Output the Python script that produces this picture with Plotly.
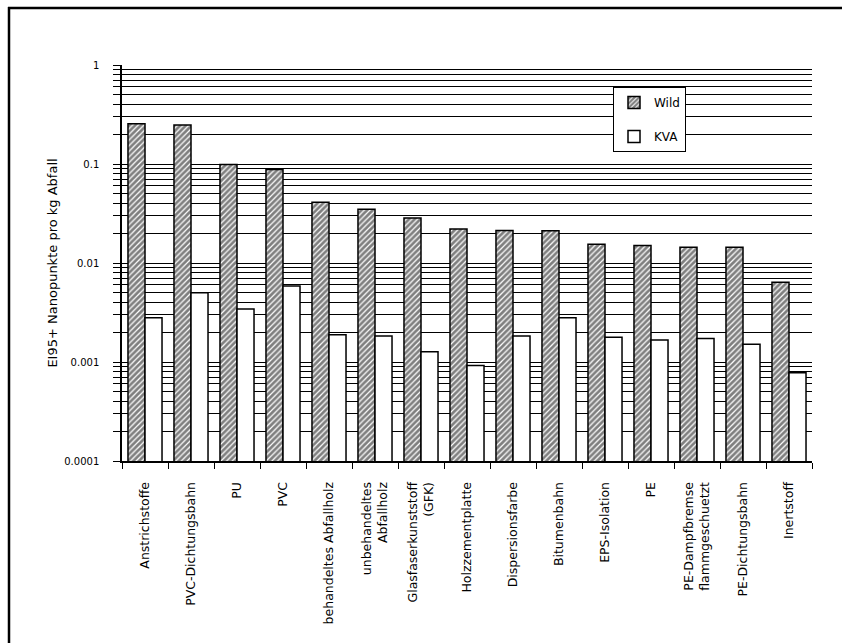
import plotly.graph_objects as go

categories = [
    "Anstrichstoffe", "PVC-Dichtungsbahn", "PU", "PVC", "behandeltes Abfallholz",
    "unbehandeltes<br>Abfallholz", "Glasfaserkunststoff<br>(GFK)", "Holzzementplatte",
    "Dispersionsfarbe", "Bitumenbahn", "EPS-Isolation", "PE",
    "PE-Dampfbremse<br>flammgeschuetzt", "PE-Dichtungsbahn", "Inertstoff",
]
wild = [0.255, 0.248, 0.099, 0.088, 0.041, 0.035, 0.0285, 0.0221, 0.0213, 0.0212,
        0.0155, 0.0150, 0.0144, 0.0144, 0.0064]
kva = [0.0028, 0.0050, 0.00343, 0.00586, 0.00189, 0.00183, 0.00127, 0.00092, 0.00183,
       0.0028, 0.00178, 0.00167, 0.00173, 0.00151, 0.00078]

y_title = "EI95+ Nanopunkte pro kg Abfall"
decades = [1e-4, 1e-3, 1e-2, 1e-1, 1]
decade_labels = ["0.0001", "0.001", "0.01", "0.1", "1"]

tickvals, ticktext = [], []
for d, lab in zip(decades, decade_labels):
    tickvals.append(d)
    ticktext.append(lab)
    if d < 1:
        for k in range(2, 10):
            tickvals.append(d * k)
            ticktext.append("")

FONT = "DejaVu Sans"

fig = go.Figure()
fig.add_trace(go.Bar(
    x=categories, y=wild, name="Wild", legendgroup="a",
    marker=dict(color="white", line=dict(color="black", width=1.5),
                pattern=dict(shape="/", fgcolor="black", bgcolor="white", size=4, solidity=0.7)),
))
fig.add_trace(go.Bar(
    x=categories, y=kva, name="KVA", legendgroup="b",
    marker=dict(color="white", line=dict(color="black", width=1.5)),
))

L, R, T, B = 122, 30, 65, 182
W, H = 842, 643
pw, ph = W - L - R, H - T - B

def px_x(x):
    return (x - L) / pw

def px_y(y):
    return (H - B - y) / ph

fig.update_layout(
    width=W, height=H,
    margin=dict(l=L, r=R, t=T, b=B, pad=0),
    paper_bgcolor="white", plot_bgcolor="white",
    font=dict(family=FONT, size=10, color="black"),
    barmode="group", bargap=0.26, bargroupgap=0,
    showlegend=True,
    legend=dict(
        x=px_x(613), y=px_y(87), xanchor="left", yanchor="top",
        bgcolor="white", bordercolor="black", borderwidth=1,
        font=dict(family=FONT, size=12), traceorder="grouped", tracegroupgap=15,
        itemwidth=30,
    ),
    xaxis=dict(
        type="category", tickson="boundaries", ticks="outside", ticklen=6,
        tickcolor="black", tickwidth=1, showline=True, linecolor="black", linewidth=2,
        showgrid=False, tickangle=-90, tickfont=dict(family=FONT, size=12.5),
        ticklabelstandoff=14, automargin=False,
    ),
    yaxis=dict(
        type="log", range=[-4, 0], tickvals=tickvals, ticktext=ticktext,
        ticks="outside", ticklen=7, tickcolor="black", tickwidth=1,
        showline=True, linecolor="black", linewidth=1.5,
        showgrid=True, gridcolor="black", gridwidth=1,
        tickfont=dict(family=FONT, size=10), ticklabelstandoff=12, automargin=False,
        title=dict(text=y_title, font=dict(family=FONT, size=13), standoff=4),
        zeroline=False,
    ),
    shapes=[
        dict(type="line", xref="paper", yref="paper", x0=px_x(8), x1=px_x(842),
             y0=px_y(8), y1=px_y(8), line=dict(color="black", width=2.5)),
        dict(type="line", xref="paper", yref="paper", x0=px_x(9), x1=px_x(9),
             y0=px_y(7), y1=px_y(643), line=dict(color="black", width=2.5)),
    ],
)

fig.write_html("out.html")
